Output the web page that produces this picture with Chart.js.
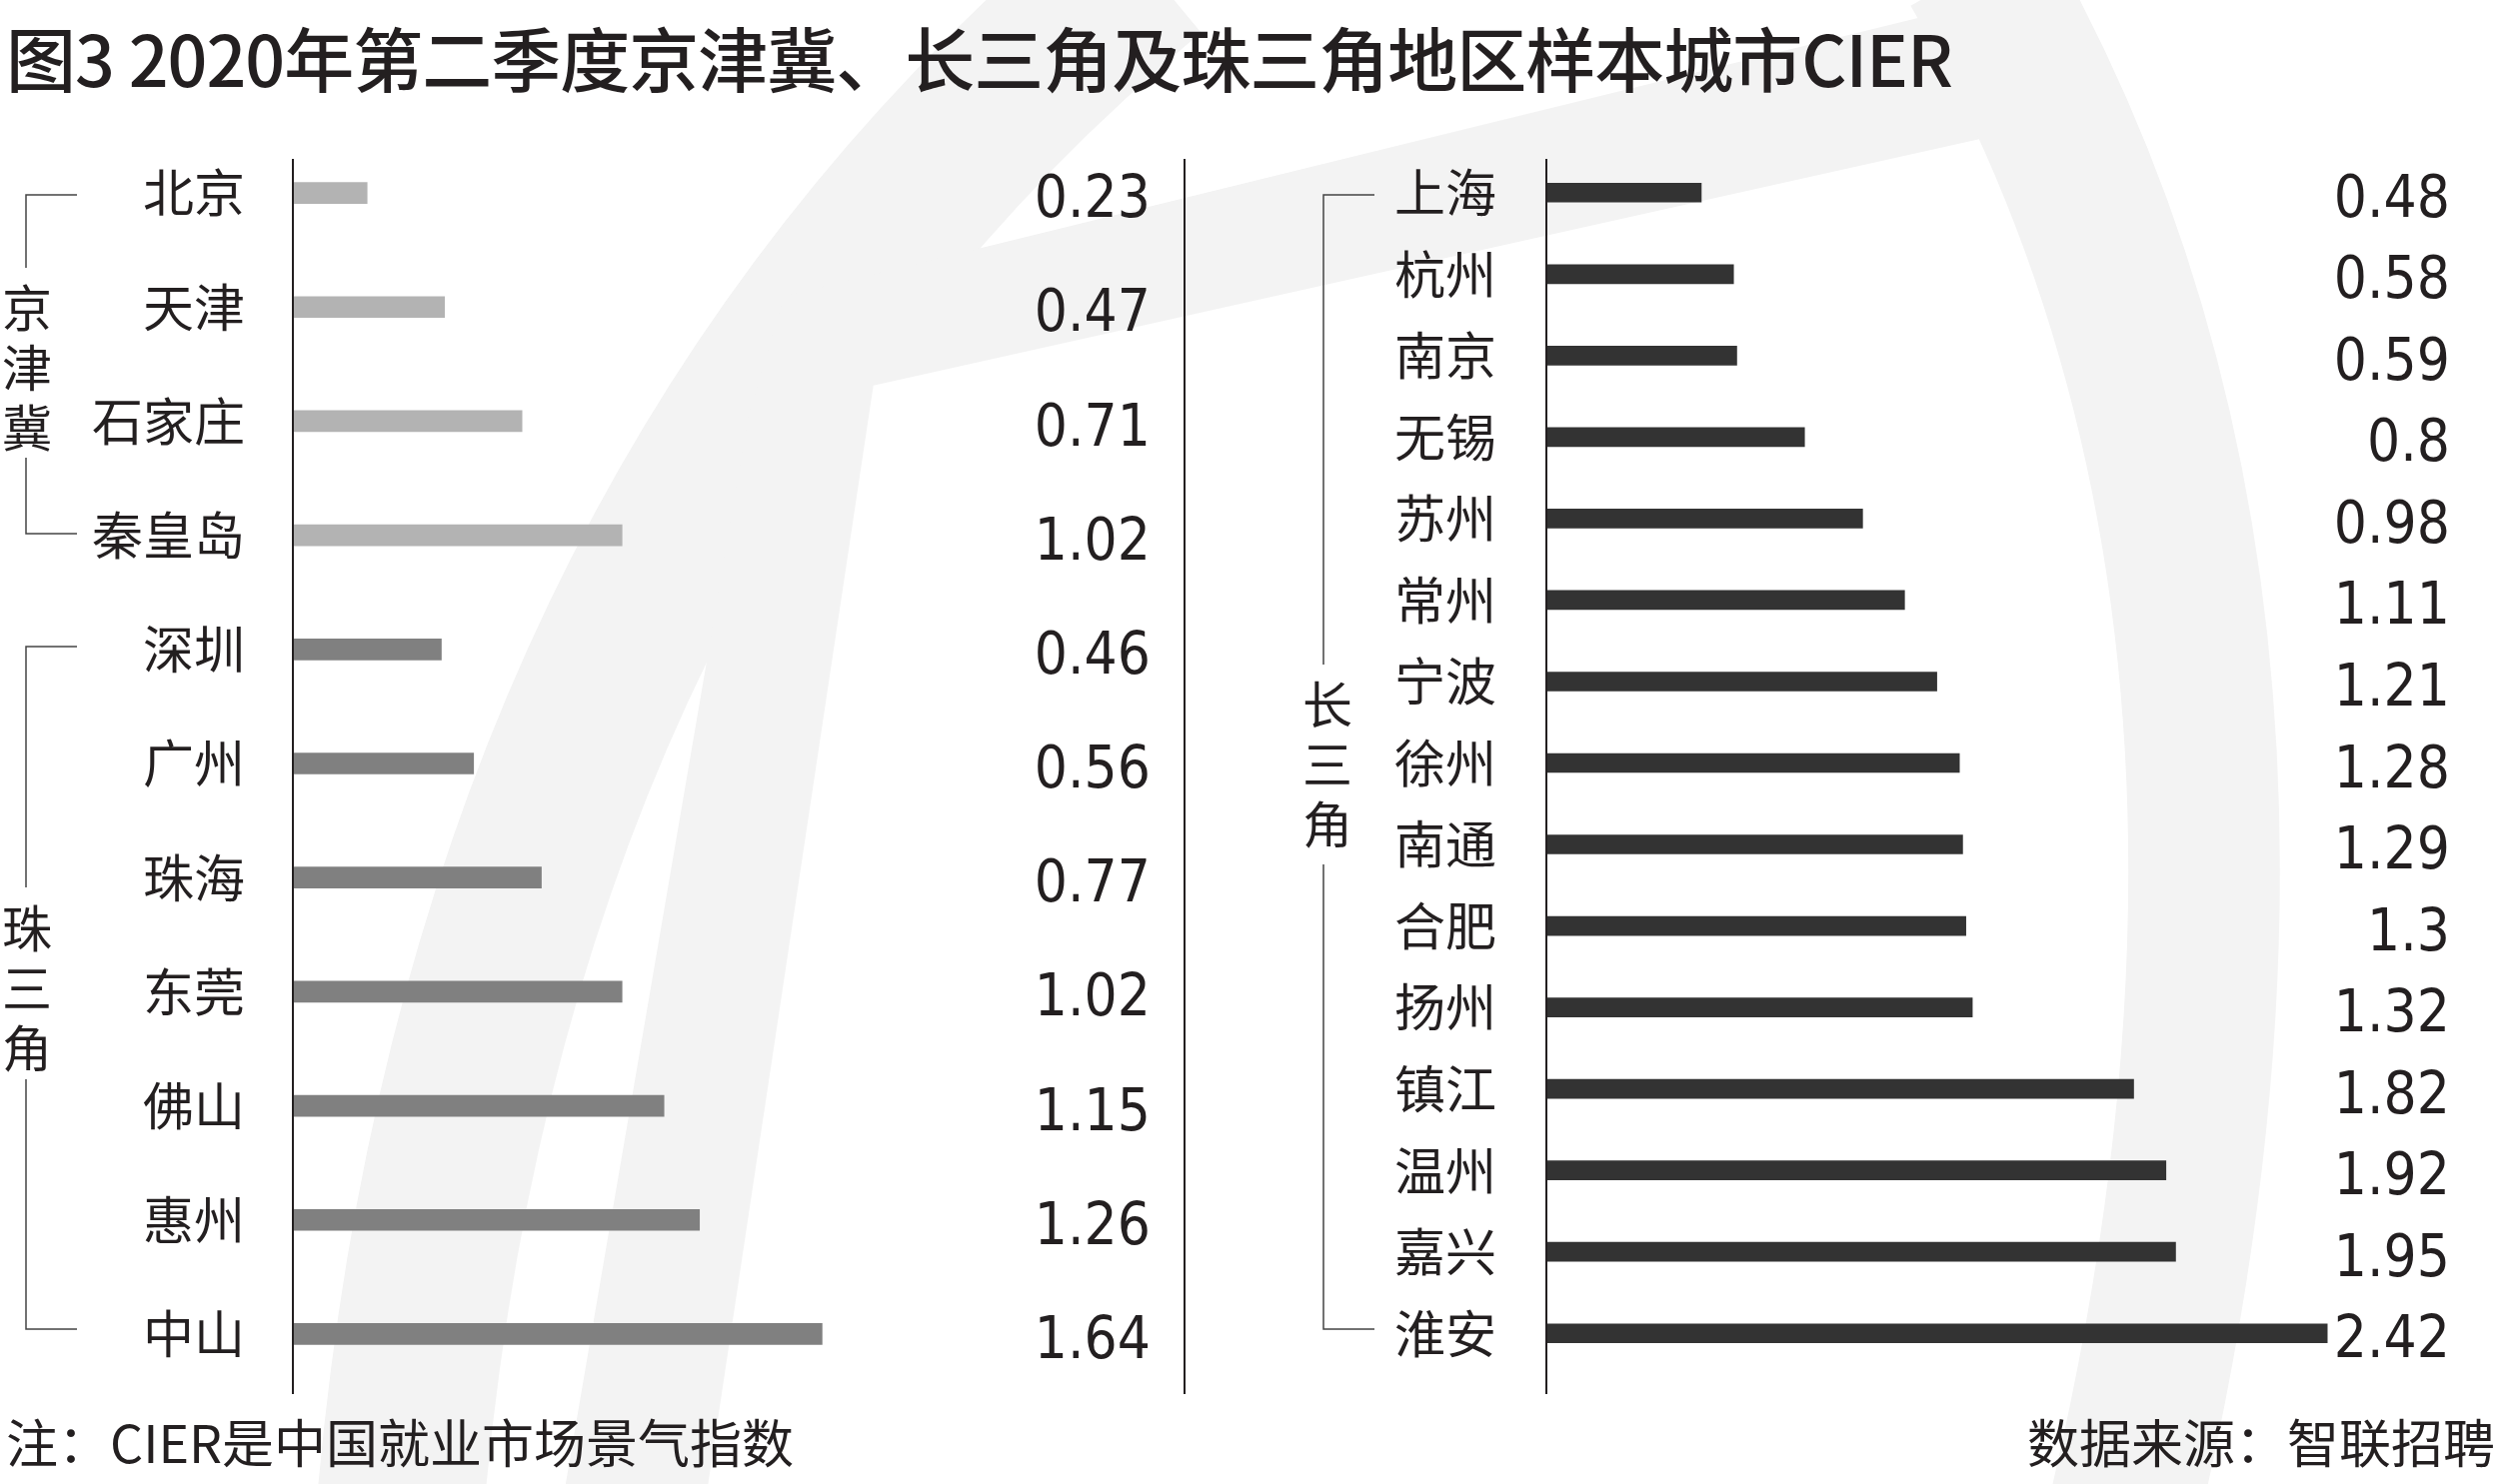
<!DOCTYPE html>
<html><head><meta charset="utf-8">
<script src="https://cdn.jsdelivr.net/npm/chart.js@4"></script>
<style>
html,body{margin:0;padding:0;background:#fff;}
#wrap{position:relative;width:2500px;height:1485px;overflow:hidden;font-family:"Noto Sans CJK SC",sans-serif;color:#231f20;}
canvas{position:absolute;left:0;top:0;}
.t{position:absolute;white-space:nowrap;line-height:1;}
</style></head><body>
<div id="wrap">
<canvas id="bg" width="2500" height="1485"></canvas>
<canvas id="c1" width="2500" height="1485"></canvas>
<canvas id="c2" width="2500" height="1485"></canvas>
<div class="t" style="left:6px;top:22px;font-size:70px;font-weight:500;letter-spacing:-1px;">图3 2020年第二季度京津冀、长三角及珠三角地区样本城市CIER</div>
<div class="t" style="left:2px;top:275px;font-size:50px;line-height:60px;width:50px;text-align:center;">京<br>津<br>冀</div>
<div class="t" style="left:2px;top:896px;font-size:50px;line-height:60px;width:50px;text-align:center;">珠<br>三<br>角</div>
<div class="t" style="left:1303px;top:672px;font-size:50px;line-height:60px;width:50px;text-align:center;">长<br>三<br>角</div>
<div class="t" style="left:6px;top:1416px;font-size:52px;">注：CIER是中国就业市场景气指数</div>
<div class="t" style="right:4px;top:1416px;font-size:52px;">数据来源：智联招聘</div>
</div>
<script>
const leftCities=["北京","天津","石家庄","秦皇岛","深圳","广州","珠海","东莞","佛山","惠州","中山"];
const leftValues=[0.23,0.47,0.71,1.02,0.46,0.56,0.77,1.02,1.15,1.26,1.64];
const leftLabels=["0.23","0.47","0.71","1.02","0.46","0.56","0.77","1.02","1.15","1.26","1.64"];
const rightCities=["上海","杭州","南京","无锡","苏州","常州","宁波","徐州","南通","合肥","扬州","镇江","温州","嘉兴","淮安"];
const rightValues=[0.48,0.58,0.59,0.8,0.98,1.11,1.21,1.28,1.29,1.3,1.32,1.82,1.92,1.95,2.42];
const rightLabels=["0.48","0.58","0.59","0.8","0.98","1.11","1.21","1.28","1.29","1.3","1.32","1.82","1.92","1.95","2.42"];
const leftColors=leftCities.map((c,i)=>i<4?"#b3b3b3":"#808080");

(function(){
  const s=2500/1568;
  const g=document.getElementById('bg').getContext('2d');
  g.scale(s,s);
  g.fillStyle="#f3f3f3";g.strokeStyle="#f3f3f3";
  g.lineWidth=105;g.lineCap="butt";
  g.beginPath();g.moveTo(720,-20);g.quadraticCurveTo(300,330,250,960);g.stroke();
  g.beginPath();g.moveTo(492,186);g.lineTo(1290,-10);g.lineTo(1320,70);g.lineTo(548,242);g.lineTo(440,960);g.lineTo(350,960);g.lineTo(470,260);g.closePath();g.fill();
  g.lineWidth=95;
  g.beginPath();g.moveTo(1240,-20);g.quadraticCurveTo(1470,380,1330,960);g.stroke();
})();

function makeChart(id,cats,vals,labs,colors,axisW,padR,pad,thick,top,bottom,valX,axisPlug){
  return new Chart(document.getElementById(id),{
    type:'bar',
    data:{labels:cats,datasets:[{data:vals,backgroundColor:colors,barThickness:thick}]},
    options:{indexAxis:'y',responsive:false,animation:false,
      layout:{padding:{left:0,right:padR,top:top,bottom:bottom}},
      plugins:{legend:{display:false},tooltip:{enabled:false}},
      scales:{
        x:{display:false,min:0,max:2.5},
        y:{grid:{display:false},border:{display:false},
           ticks:{padding:pad,color:"#231f20",font:{family:"Noto Sans CJK SC",size:51}},
           afterFit:(sc)=>{sc.width=axisW;}}
      }},
    plugins:[{id:'v',afterDraw(ch){
      const c=ch.ctx,ys=ch.scales.y,xs=ch.scales.x;
      c.save();
      c.fillStyle="#231f20";c.font="58px 'Liberation Sans Narrow','DejaVu Sans Condensed',sans-serif";
      c.textAlign="right";c.textBaseline="middle";
      labs.forEach((l,i)=>c.fillText(l,valX,ys.getPixelForValue(i)+9));
      c.strokeStyle="#231f20";c.lineWidth=2;
      c.beginPath();c.moveTo(xs.left,159);c.lineTo(xs.left,1395);c.stroke();
      axisPlug(c);
      c.restore();
    }}]
  });
}
function seg(c,pts){c.beginPath();c.moveTo(pts[0][0],pts[0][1]);for(let i=1;i<pts.length;i++)c.lineTo(pts[i][0],pts[i][1]);c.stroke();}
makeChart('c1',leftCities,leftValues,leftLabels,leftColors,293,1400,40,21,136,93,1151,(c)=>{
  c.lineWidth=1.5;c.strokeStyle="#444";
  seg(c,[[77,195],[26,195],[26,268]]);
  seg(c,[[26,458],[26,534],[77,534]]);
  seg(c,[[77,647],[26,647],[26,888]]);
  seg(c,[[26,1080],[26,1330],[77,1330]]);
  c.lineWidth=2;c.strokeStyle="#231f20";
  seg(c,[[1185,159],[1185,1395]]);
});
makeChart('c2',rightCities,rightValues,rightLabels,"#333333",1547,146,42,19,152,110,2451,(c)=>{
  c.lineWidth=1.5;c.strokeStyle="#444";
  seg(c,[[1375,195],[1324,195],[1324,665]]);
  seg(c,[[1324,865],[1324,1330],[1375,1330]]);
});
</script>
</body></html>
